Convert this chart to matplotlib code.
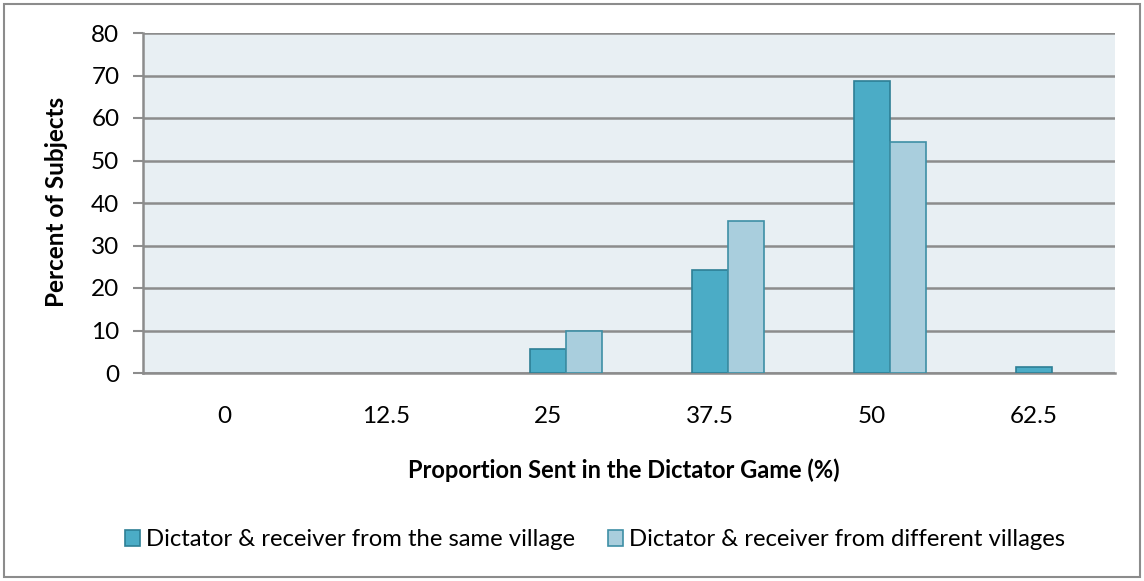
import matplotlib
matplotlib.use("Agg")
import matplotlib.pyplot as plt
from matplotlib.patches import Rectangle
import numpy as np

categories = ["0", "12.5", "25", "37.5", "50", "62.5"]
same_village = [0, 0, 5.7, 24.3, 68.6, 1.4]
diff_village = [0, 0, 10.0, 35.8, 54.3, 0]
series_names = ["Dictator & receiver from the same village",
                "Dictator & receiver from different villages"]
yticks = [0, 10, 20, 30, 40, 50, 60, 70, 80]

plt.rcParams['font.family'] = ['Lato', 'DejaVu Sans']
FS = 17.5

W, H = 1144, 581
fig = plt.figure(figsize=(W / 100, H / 100), dpi=100)
fig.patch.set_facecolor("white")
fig.patches.append(Rectangle((4 / W, 4 / H), 1136 / W, 573 / H, transform=fig.transFigure,
                             fill=False, edgecolor="#8c8c8c", linewidth=1.5))

ax = fig.add_axes([143 / W, 1 - 373 / H, (1115 - 143) / W, (373 - 33) / H])
ax.set_facecolor("#E8EFF3")

x = np.arange(len(categories))
w = 0.222
c1, e1 = "#4BACC6", "#2E7F95"
c2, e2 = "#A9CEDD", "#3E8FA5"
for i in range(len(categories)):
    if same_village[i] > 0:
        ax.bar(x[i], same_village[i], width=w, color=c1, edgecolor=e1, linewidth=1.2, zorder=3)
    if diff_village[i] > 0:
        ax.bar(x[i] + w, diff_village[i], width=w, color=c2, edgecolor=e2, linewidth=1.2, zorder=3)

ax.set_xlim(-0.5, len(categories) - 0.5)
ax.set_ylim(0, 80)
ax.set_yticks(yticks)
ax.set_yticklabels([str(t) for t in yticks], fontsize=FS)
ax.set_xticks(x)
ax.set_xticklabels(categories, fontsize=FS)
ax.tick_params(axis='x', length=0, pad=24)
ax.tick_params(axis='y', length=7, width=1.5, color="#8c8c8c", pad=10)
ax.yaxis.grid(True, color="#8c8c8c", linewidth=1.8, zorder=1)
ax.set_axisbelow(True)
for s in ["top", "right"]:
    ax.spines[s].set_visible(False)
for s in ["left", "bottom"]:
    ax.spines[s].set_color("#8c8c8c")
    ax.spines[s].set_linewidth(1.8)

fig.text(624 / W, 1 - 470 / H, "Proportion Sent in the Dictator Game (%)", ha="center", va="center",
         fontsize=FS - 0.5, fontweight="bold")
fig.text(56 / W, 1 - 202 / H, "Percent of Subjects", ha="center", va="center", rotation=90,
         fontsize=FS, fontweight="bold")

handles = [Rectangle((0, 0), 1, 1, facecolor=c1, edgecolor=e1, linewidth=1.2),
           Rectangle((0, 0), 1, 1, facecolor=c2, edgecolor=e2, linewidth=1.2)]
fig.legend(handles, series_names, loc="center", bbox_to_anchor=(595 / W, 1 - 540 / H),
           ncol=2, frameon=False, fontsize=17.2, handlelength=0.65, handleheight=0.65,
           handletextpad=0.25, columnspacing=1.35, borderpad=0, borderaxespad=0)

fig.savefig("out.png", dpi=100)
